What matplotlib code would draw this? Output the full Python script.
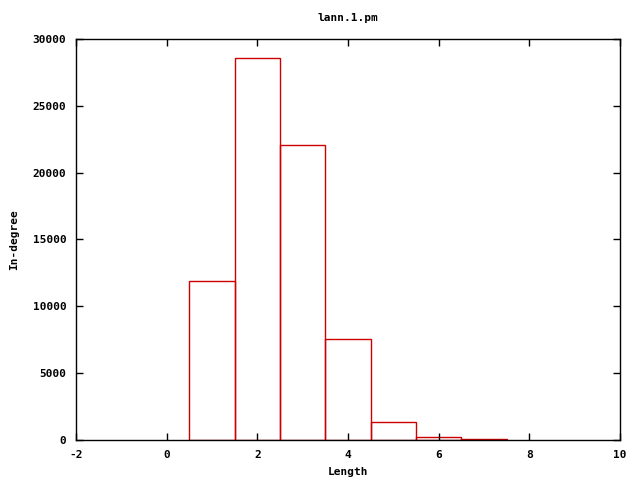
import matplotlib
matplotlib.use("Agg")
import matplotlib.pyplot as plt

lengths = [1, 2, 3, 4, 5, 6, 7]
indegree = [11900, 28550, 22100, 7550, 1340, 220, 80]
title = "lann.1.pm"
xlabel = "Length"
ylabel = "In-degree"

plt.rcParams['font.family'] = ['DejaVu Sans Mono']
plt.rcParams['font.weight'] = 'bold'
plt.rcParams['font.size'] = 8
plt.rcParams['axes.unicode_minus'] = False

fig = plt.figure(figsize=(6.4, 4.8), dpi=100)
ax = fig.add_axes([76/640, 1-440/480, (620-76)/640, (440-39)/480])
ax.bar(lengths, indegree, width=1.0, fill=False, edgecolor='#cc0000', linewidth=1.0)
ax.set_xlim(-2, 10)
ax.set_ylim(0, 30000)
ax.set_xticks(range(-2, 11, 2))
ax.set_yticks(range(0, 30001, 5000))
ax.tick_params(direction='in', top=True, right=True, length=5, width=1, labelsize=8)
ax.tick_params(axis='y', pad=7)
ax.tick_params(axis='x', pad=7)
for lab in ax.get_xticklabels() + ax.get_yticklabels():
    lab.set_fontweight('bold')
for s in ax.spines.values():
    s.set_linewidth(1)
fig.text(348/640, 1-472/480, xlabel, ha='center', va='center', fontweight='bold', fontsize=8)
fig.text(14/640, 1-240/480, ylabel, ha='center', va='center', rotation=90, fontweight='bold', fontsize=8)
fig.text(348/640, 1-18/480, title, ha='center', va='center', fontweight='bold', fontsize=8)
fig.savefig("out.png", dpi=100)
